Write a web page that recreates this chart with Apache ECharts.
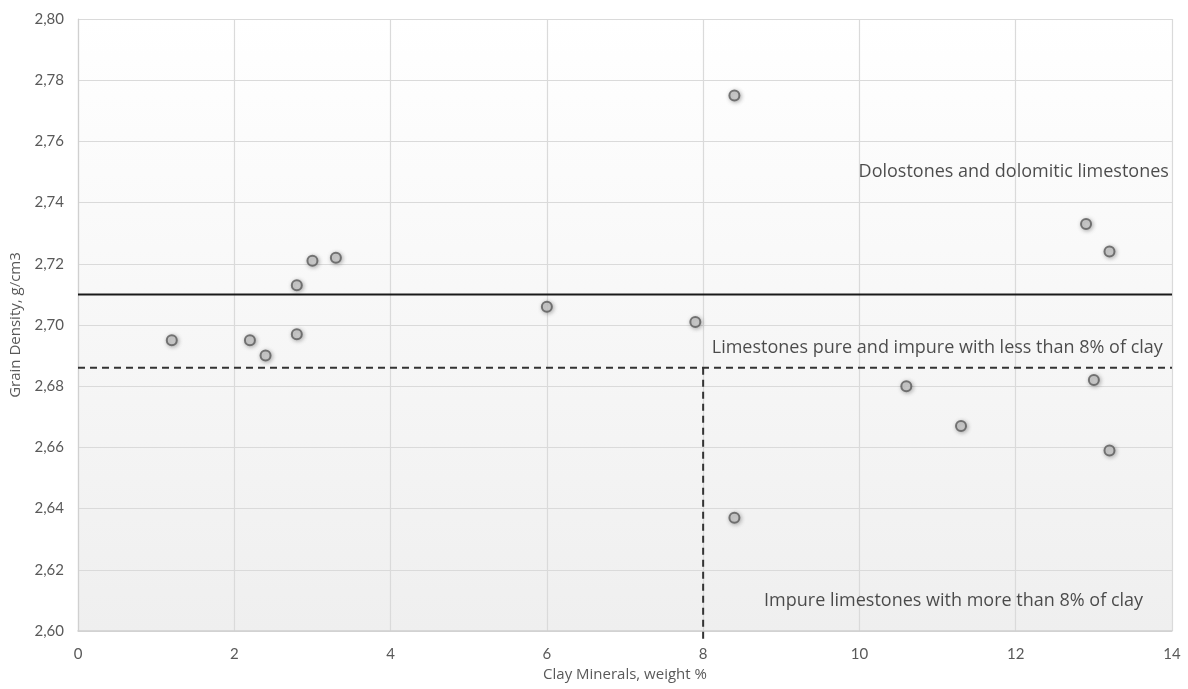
<!DOCTYPE html>
<html>
<head>
<meta charset="utf-8">
<script src="https://cdn.jsdelivr.net/npm/echarts@6/dist/echarts.min.js"></script>
<style>
  html, body { margin: 0; padding: 0; background: #ffffff; }
  #chart { width: 1188px; height: 689px; }
</style>
</head>
<body>
<div id="chart"></div>
<script>
// Clay content (weight %) and grain density (g/cm3) of each sample
const clayMinerals = [1.2, 2.2, 2.4, 2.8, 2.8, 3.0, 3.3, 6.0, 7.9, 8.4, 8.4, 10.6, 11.3, 12.9, 13.2, 13.0, 13.2];
const grainDensity = [2.695, 2.695, 2.690, 2.697, 2.713, 2.721, 2.722, 2.706, 2.701, 2.775, 2.637, 2.680, 2.667, 2.733, 2.724, 2.682, 2.659];

// Class boundaries
const dolomiteBoundary = [[0, 2.710], [14, 2.710]];
const limestoneBoundary = [[0, 2.686], [14, 2.686]];
const clayBoundary = [[8, 2.686], [8, 2.5975]];

// Class names and where they sit
const classLabels = [
  { name: 'Dolostones and dolomitic limestones', x: 13.96, y: 2.750, side: 'left' },
  { name: 'Limestones pure and impure with less than 8% of clay', x: 8.11, y: 2.6925, side: 'right' },
  { name: 'Impure limestones with more than 8% of clay', x: 8.78, y: 2.6098, side: 'right' }
];

const xTicks = { min: 0, max: 14, interval: 2 };
const yTicks = { min: 2.60, max: 2.80, interval: 0.02 };

const FONT = 'Lato, "Open Sans", sans-serif';
const TEXT_FONT = '"Open Sans", Lato, sans-serif';
const chart = echarts.init(document.getElementById('chart'));

const samples = clayMinerals.map((c, i) => [c, grainDensity[i]]);

chart.setOption({
  animation: false,
  backgroundColor: '#ffffff',
  grid: {
    left: 78, right: 16, top: 19, bottom: 58,
    containLabel: false,
    outerBoundsMode: 'none',
    show: true,
    borderWidth: 0,
    backgroundColor: {
      type: 'linear', x: 0, y: 0, x2: 0, y2: 1,
      colorStops: [
        { offset: 0, color: '#ffffff' },
        { offset: 1, color: '#efefef' }
      ]
    }
  },
  xAxis: {
    type: 'value',
    min: xTicks.min, max: xTicks.max, interval: xTicks.interval,
    name: 'Clay Minerals, weight %',
    nameLocation: 'middle',
    nameGap: 31,
    nameTextStyle: { fontFamily: TEXT_FONT, fontSize: 15, color: '#595959' },
    axisLine: { show: true, lineStyle: { color: '#d0d0d0', width: 1.5 } },
    axisTick: { show: false },
    axisLabel: { fontFamily: FONT, fontSize: 15, color: '#595959', margin: 16 },
    splitLine: { show: true, lineStyle: { color: '#dadada', width: 1.2 } }
  },
  yAxis: {
    type: 'value',
    min: yTicks.min, max: yTicks.max, interval: yTicks.interval,
    name: 'Grain Density, g/cm3',
    nameLocation: 'middle',
    nameGap: 53,
    nameTextStyle: { fontFamily: TEXT_FONT, fontSize: 15, color: '#595959' },
    axisLine: { show: true, lineStyle: { color: '#d0d0d0', width: 1.2 } },
    axisTick: { show: false },
    axisLabel: {
      fontFamily: FONT, fontSize: 15, color: '#595959', margin: 14,
      formatter: v => v.toFixed(2).replace('.', ',')
    },
    splitLine: { show: true, lineStyle: { color: '#dadada', width: 1.2 } }
  },
  series: [
    {
      type: 'line',
      data: dolomiteBoundary,
      symbol: 'none',
      lineStyle: { color: '#1a1a1a', width: 2 },
      silent: true,
      z: 3
    },
    {
      type: 'line',
      data: limestoneBoundary,
      symbol: 'none',
      lineStyle: { color: '#333333', width: 2, type: [7, 5] },
      silent: true,
      z: 3
    },
    {
      type: 'line',
      data: clayBoundary,
      symbol: 'none',
      clip: false,
      lineStyle: { color: '#333333', width: 2, type: [7, 5] },
      silent: true,
      z: 3
    },
    {
      type: 'scatter',
      data: samples,
      symbol: 'circle',
      symbolSize: 10,
      itemStyle: {
        color: '#d6d6d6',
        borderColor: '#5a5a5a',
        borderWidth: 2,
        shadowBlur: 4,
        shadowColor: 'rgba(0,0,0,0.35)',
        shadowOffsetX: 1,
        shadowOffsetY: 1
      },
      z: 5
    },
    {
      type: 'scatter',
      data: classLabels.map(l => ({
        value: [l.x, l.y],
        label: {
          show: true,
          formatter: l.name,
          position: l.side,
          distance: 0,
          fontFamily: TEXT_FONT,
          fontSize: 18,
          color: '#1f1f1f'
        }
      })),
      symbolSize: 0,
      silent: true,
      z: 6
    }
  ]
});
</script>
</body>
</html>
